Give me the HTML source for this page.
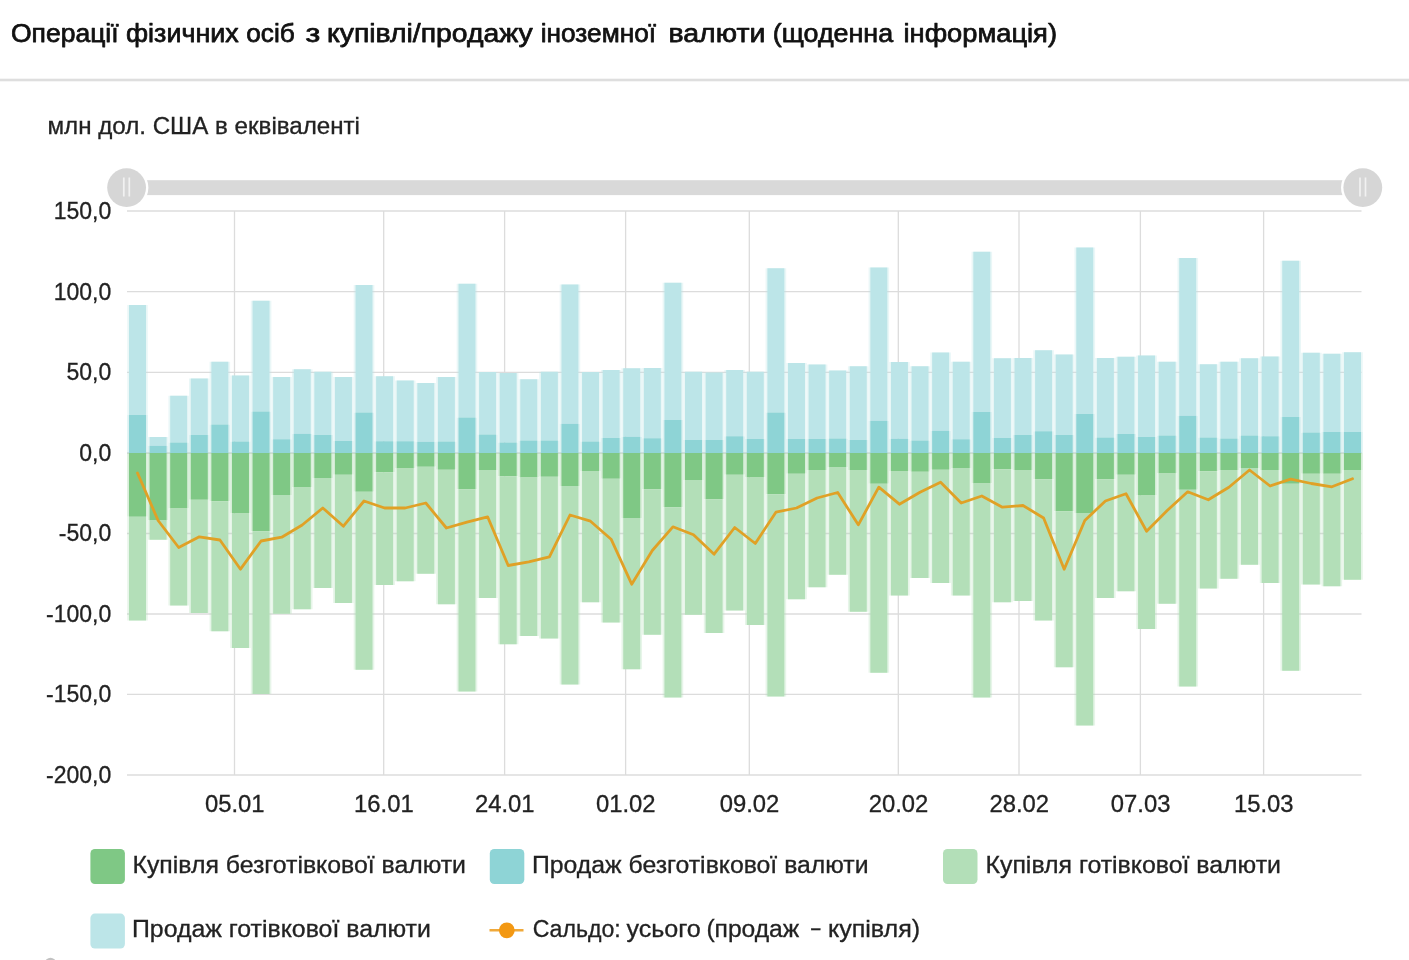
<!DOCTYPE html>
<html lang="uk"><head><meta charset="utf-8"><title>Операції фізичних осіб з купівлі/продажу іноземної валюти</title>
<style>
html,body{margin:0;padding:0;background:#fff;}
body{width:1409px;height:960px;overflow:hidden;font-family:"Liberation Sans",sans-serif;}
svg{display:block;}
text{font-family:"Liberation Sans",sans-serif;fill:#222;stroke:#222;stroke-width:0.3px;}
.t{font-size:26.3px;fill:#111;stroke:#111;stroke-width:0.75px;stroke-linejoin:round;}
.s{font-size:23px;}
.ax{font-size:23px;}
.lg{font-size:23px;}
</style></head><body>
<svg width="1409" height="960" viewBox="0 0 1409 960">
<rect x="0" y="0" width="1409" height="960" fill="#fff"/>

<text class="t" y="42.3"><tspan x="11.00" textLength="107.60" lengthAdjust="spacingAndGlyphs">Операції</tspan> <tspan x="126.00" textLength="112.70" lengthAdjust="spacingAndGlyphs">фізичних</tspan> <tspan x="246.30" textLength="48.50" lengthAdjust="spacingAndGlyphs">осіб</tspan> <tspan x="305.60" textLength="14.80" lengthAdjust="spacingAndGlyphs">з</tspan> <tspan x="327.00" textLength="205.80" lengthAdjust="spacingAndGlyphs">купівлі/продажу</tspan> <tspan x="540.80" textLength="115.20" lengthAdjust="spacingAndGlyphs">іноземної</tspan> <tspan x="668.50" textLength="96.80" lengthAdjust="spacingAndGlyphs">валюти</tspan> <tspan x="772.80" textLength="120.30" lengthAdjust="spacingAndGlyphs">(щоденна</tspan> <tspan x="903.50" textLength="153.50" lengthAdjust="spacingAndGlyphs">інформація)</tspan></text>
<rect x="0" y="78.7" width="1409" height="2.6" fill="#dedede"/>
<text class="s" x="47.5" y="133.5" textLength="312.5" lengthAdjust="spacingAndGlyphs">млн дол. США в еквіваленті</text>
<g stroke="#dcdcdc" stroke-width="1.3" fill="none">
<line x1="127.0" y1="211" x2="1361.5" y2="211"/>
<line x1="127.0" y1="291.7" x2="1361.5" y2="291.7"/>
<line x1="127.0" y1="372.3" x2="1361.5" y2="372.3"/>
<line x1="127.0" y1="453" x2="1361.5" y2="453"/>
<line x1="127.0" y1="533.5" x2="1361.5" y2="533.5"/>
<line x1="127.0" y1="614" x2="1361.5" y2="614"/>
<line x1="127.0" y1="694.3" x2="1361.5" y2="694.3"/>
<line x1="127.0" y1="775" x2="1361.5" y2="775"/>
<line x1="234.5" y1="211" x2="234.5" y2="775"/>
<line x1="383.7" y1="211" x2="383.7" y2="775"/>
<line x1="504.6" y1="211" x2="504.6" y2="775"/>
<line x1="625.6" y1="211" x2="625.6" y2="775"/>
<line x1="749.3" y1="211" x2="749.3" y2="775"/>
<line x1="898.3" y1="211" x2="898.3" y2="775"/>
<line x1="1019" y1="211" x2="1019" y2="775"/>
<line x1="1140.4" y1="211" x2="1140.4" y2="775"/>
<line x1="1263.6" y1="211" x2="1263.6" y2="775"/>
</g>
<rect x="127.0" y="180.2" width="1234.5" height="14.9" fill="#d9d9d9"/>
<circle cx="126.6" cy="187.6" r="21.8" fill="#fff"/>
<circle cx="126.6" cy="187.6" r="19.4" fill="#d6d6d6"/>
<path d="M123.8 177.6v18.8M129.3 177.6v18.8" stroke="#f1f1f1" stroke-width="1.7" fill="none"/>
<circle cx="1362.8" cy="187.6" r="21.8" fill="#fff"/>
<circle cx="1362.8" cy="187.6" r="19.4" fill="#d6d6d6"/>
<path d="M1360.0 177.6v18.8M1365.5 177.6v18.8" stroke="#f1f1f1" stroke-width="1.7" fill="none"/>
<g opacity="0.3"><rect x="127.20" y="305.00" width="20.6" height="110.00" fill="#bce5e8"/><rect x="127.20" y="415.00" width="20.6" height="38.00" fill="#8ed4d6"/><rect x="127.20" y="453.00" width="20.6" height="63.75" fill="#7fc885"/><rect x="127.20" y="516.75" width="20.6" height="103.75" fill="#b3dfb8"/><rect x="147.79" y="437.00" width="20.6" height="8.75" fill="#bce5e8"/><rect x="147.79" y="445.75" width="20.6" height="7.25" fill="#8ed4d6"/><rect x="147.79" y="453.00" width="20.6" height="67.50" fill="#7fc885"/><rect x="147.79" y="520.50" width="20.6" height="19.25" fill="#b3dfb8"/><rect x="168.39" y="395.75" width="20.6" height="46.75" fill="#bce5e8"/><rect x="168.39" y="442.50" width="20.6" height="10.50" fill="#8ed4d6"/><rect x="168.39" y="453.00" width="20.6" height="55.50" fill="#7fc885"/><rect x="168.39" y="508.50" width="20.6" height="97.00" fill="#b3dfb8"/><rect x="188.98" y="378.50" width="20.6" height="56.50" fill="#bce5e8"/><rect x="188.98" y="435.00" width="20.6" height="18.00" fill="#8ed4d6"/><rect x="188.98" y="453.00" width="20.6" height="46.75" fill="#7fc885"/><rect x="188.98" y="499.75" width="20.6" height="113.25" fill="#b3dfb8"/><rect x="209.57" y="361.75" width="20.6" height="62.75" fill="#bce5e8"/><rect x="209.57" y="424.50" width="20.6" height="28.50" fill="#8ed4d6"/><rect x="209.57" y="453.00" width="20.6" height="48.25" fill="#7fc885"/><rect x="209.57" y="501.25" width="20.6" height="130.00" fill="#b3dfb8"/><rect x="230.16" y="375.50" width="20.6" height="66.00" fill="#bce5e8"/><rect x="230.16" y="441.50" width="20.6" height="11.50" fill="#8ed4d6"/><rect x="230.16" y="453.00" width="20.6" height="60.50" fill="#7fc885"/><rect x="230.16" y="513.50" width="20.6" height="134.50" fill="#b3dfb8"/><rect x="250.76" y="300.75" width="20.6" height="110.75" fill="#bce5e8"/><rect x="250.76" y="411.50" width="20.6" height="41.50" fill="#8ed4d6"/><rect x="250.76" y="453.00" width="20.6" height="78.25" fill="#7fc885"/><rect x="250.76" y="531.25" width="20.6" height="162.75" fill="#b3dfb8"/><rect x="271.35" y="377.00" width="20.6" height="62.25" fill="#bce5e8"/><rect x="271.35" y="439.25" width="20.6" height="13.75" fill="#8ed4d6"/><rect x="271.35" y="453.00" width="20.6" height="42.00" fill="#7fc885"/><rect x="271.35" y="495.00" width="20.6" height="118.75" fill="#b3dfb8"/><rect x="291.94" y="369.25" width="20.6" height="64.50" fill="#bce5e8"/><rect x="291.94" y="433.75" width="20.6" height="19.25" fill="#8ed4d6"/><rect x="291.94" y="453.00" width="20.6" height="34.50" fill="#7fc885"/><rect x="291.94" y="487.50" width="20.6" height="121.75" fill="#b3dfb8"/><rect x="312.54" y="371.75" width="20.6" height="63.25" fill="#bce5e8"/><rect x="312.54" y="435.00" width="20.6" height="18.00" fill="#8ed4d6"/><rect x="312.54" y="453.00" width="20.6" height="25.00" fill="#7fc885"/><rect x="312.54" y="478.00" width="20.6" height="110.00" fill="#b3dfb8"/><rect x="333.13" y="377.00" width="20.6" height="64.00" fill="#bce5e8"/><rect x="333.13" y="441.00" width="20.6" height="12.00" fill="#8ed4d6"/><rect x="333.13" y="453.00" width="20.6" height="21.75" fill="#7fc885"/><rect x="333.13" y="474.75" width="20.6" height="128.25" fill="#b3dfb8"/><rect x="353.72" y="285.00" width="20.6" height="127.50" fill="#bce5e8"/><rect x="353.72" y="412.50" width="20.6" height="40.50" fill="#8ed4d6"/><rect x="353.72" y="453.00" width="20.6" height="38.75" fill="#7fc885"/><rect x="353.72" y="491.75" width="20.6" height="178.00" fill="#b3dfb8"/><rect x="374.32" y="376.25" width="20.6" height="65.00" fill="#bce5e8"/><rect x="374.32" y="441.25" width="20.6" height="11.75" fill="#8ed4d6"/><rect x="374.32" y="453.00" width="20.6" height="19.25" fill="#7fc885"/><rect x="374.32" y="472.25" width="20.6" height="112.75" fill="#b3dfb8"/><rect x="394.91" y="380.50" width="20.6" height="60.75" fill="#bce5e8"/><rect x="394.91" y="441.25" width="20.6" height="11.75" fill="#8ed4d6"/><rect x="394.91" y="453.00" width="20.6" height="15.50" fill="#7fc885"/><rect x="394.91" y="468.50" width="20.6" height="112.75" fill="#b3dfb8"/><rect x="415.50" y="383.00" width="20.6" height="58.75" fill="#bce5e8"/><rect x="415.50" y="441.75" width="20.6" height="11.25" fill="#8ed4d6"/><rect x="415.50" y="453.00" width="20.6" height="13.75" fill="#7fc885"/><rect x="415.50" y="466.75" width="20.6" height="107.00" fill="#b3dfb8"/><rect x="436.09" y="377.00" width="20.6" height="64.50" fill="#bce5e8"/><rect x="436.09" y="441.50" width="20.6" height="11.50" fill="#8ed4d6"/><rect x="436.09" y="453.00" width="20.6" height="16.75" fill="#7fc885"/><rect x="436.09" y="469.75" width="20.6" height="134.50" fill="#b3dfb8"/><rect x="456.69" y="283.75" width="20.6" height="133.75" fill="#bce5e8"/><rect x="456.69" y="417.50" width="20.6" height="35.50" fill="#8ed4d6"/><rect x="456.69" y="453.00" width="20.6" height="36.25" fill="#7fc885"/><rect x="456.69" y="489.25" width="20.6" height="202.25" fill="#b3dfb8"/><rect x="477.28" y="372.00" width="20.6" height="62.50" fill="#bce5e8"/><rect x="477.28" y="434.50" width="20.6" height="18.50" fill="#8ed4d6"/><rect x="477.28" y="453.00" width="20.6" height="17.00" fill="#7fc885"/><rect x="477.28" y="470.00" width="20.6" height="128.00" fill="#b3dfb8"/><rect x="497.87" y="373.00" width="20.6" height="69.50" fill="#bce5e8"/><rect x="497.87" y="442.50" width="20.6" height="10.50" fill="#8ed4d6"/><rect x="497.87" y="453.00" width="20.6" height="23.25" fill="#7fc885"/><rect x="497.87" y="476.25" width="20.6" height="168.00" fill="#b3dfb8"/><rect x="518.47" y="379.25" width="20.6" height="61.25" fill="#bce5e8"/><rect x="518.47" y="440.50" width="20.6" height="12.50" fill="#8ed4d6"/><rect x="518.47" y="453.00" width="20.6" height="24.50" fill="#7fc885"/><rect x="518.47" y="477.50" width="20.6" height="158.50" fill="#b3dfb8"/><rect x="539.06" y="371.75" width="20.6" height="68.75" fill="#bce5e8"/><rect x="539.06" y="440.50" width="20.6" height="12.50" fill="#8ed4d6"/><rect x="539.06" y="453.00" width="20.6" height="23.75" fill="#7fc885"/><rect x="539.06" y="476.75" width="20.6" height="161.75" fill="#b3dfb8"/><rect x="559.65" y="284.50" width="20.6" height="139.25" fill="#bce5e8"/><rect x="559.65" y="423.75" width="20.6" height="29.25" fill="#8ed4d6"/><rect x="559.65" y="453.00" width="20.6" height="33.00" fill="#7fc885"/><rect x="559.65" y="486.00" width="20.6" height="198.50" fill="#b3dfb8"/><rect x="580.25" y="372.00" width="20.6" height="69.50" fill="#bce5e8"/><rect x="580.25" y="441.50" width="20.6" height="11.50" fill="#8ed4d6"/><rect x="580.25" y="453.00" width="20.6" height="18.00" fill="#7fc885"/><rect x="580.25" y="471.00" width="20.6" height="131.25" fill="#b3dfb8"/><rect x="600.84" y="370.00" width="20.6" height="68.00" fill="#bce5e8"/><rect x="600.84" y="438.00" width="20.6" height="15.00" fill="#8ed4d6"/><rect x="600.84" y="453.00" width="20.6" height="25.75" fill="#7fc885"/><rect x="600.84" y="478.75" width="20.6" height="143.75" fill="#b3dfb8"/><rect x="621.43" y="368.25" width="20.6" height="68.50" fill="#bce5e8"/><rect x="621.43" y="436.75" width="20.6" height="16.25" fill="#8ed4d6"/><rect x="621.43" y="453.00" width="20.6" height="65.00" fill="#7fc885"/><rect x="621.43" y="518.00" width="20.6" height="151.25" fill="#b3dfb8"/><rect x="642.03" y="368.00" width="20.6" height="70.25" fill="#bce5e8"/><rect x="642.03" y="438.25" width="20.6" height="14.75" fill="#8ed4d6"/><rect x="642.03" y="453.00" width="20.6" height="36.25" fill="#7fc885"/><rect x="642.03" y="489.25" width="20.6" height="145.50" fill="#b3dfb8"/><rect x="662.62" y="282.75" width="20.6" height="137.25" fill="#bce5e8"/><rect x="662.62" y="420.00" width="20.6" height="33.00" fill="#8ed4d6"/><rect x="662.62" y="453.00" width="20.6" height="54.25" fill="#7fc885"/><rect x="662.62" y="507.25" width="20.6" height="190.25" fill="#b3dfb8"/><rect x="683.21" y="371.75" width="20.6" height="68.25" fill="#bce5e8"/><rect x="683.21" y="440.00" width="20.6" height="13.00" fill="#8ed4d6"/><rect x="683.21" y="453.00" width="20.6" height="27.00" fill="#7fc885"/><rect x="683.21" y="480.00" width="20.6" height="134.75" fill="#b3dfb8"/><rect x="703.80" y="372.50" width="20.6" height="67.50" fill="#bce5e8"/><rect x="703.80" y="440.00" width="20.6" height="13.00" fill="#8ed4d6"/><rect x="703.80" y="453.00" width="20.6" height="46.25" fill="#7fc885"/><rect x="703.80" y="499.25" width="20.6" height="133.75" fill="#b3dfb8"/><rect x="724.40" y="370.00" width="20.6" height="66.25" fill="#bce5e8"/><rect x="724.40" y="436.25" width="20.6" height="16.75" fill="#8ed4d6"/><rect x="724.40" y="453.00" width="20.6" height="21.75" fill="#7fc885"/><rect x="724.40" y="474.75" width="20.6" height="135.75" fill="#b3dfb8"/><rect x="744.99" y="371.75" width="20.6" height="67.25" fill="#bce5e8"/><rect x="744.99" y="439.00" width="20.6" height="14.00" fill="#8ed4d6"/><rect x="744.99" y="453.00" width="20.6" height="24.50" fill="#7fc885"/><rect x="744.99" y="477.50" width="20.6" height="147.50" fill="#b3dfb8"/><rect x="765.58" y="268.25" width="20.6" height="144.25" fill="#bce5e8"/><rect x="765.58" y="412.50" width="20.6" height="40.50" fill="#8ed4d6"/><rect x="765.58" y="453.00" width="20.6" height="41.25" fill="#7fc885"/><rect x="765.58" y="494.25" width="20.6" height="202.25" fill="#b3dfb8"/><rect x="786.18" y="363.00" width="20.6" height="76.00" fill="#bce5e8"/><rect x="786.18" y="439.00" width="20.6" height="14.00" fill="#8ed4d6"/><rect x="786.18" y="453.00" width="20.6" height="20.75" fill="#7fc885"/><rect x="786.18" y="473.75" width="20.6" height="125.50" fill="#b3dfb8"/><rect x="806.77" y="364.50" width="20.6" height="74.50" fill="#bce5e8"/><rect x="806.77" y="439.00" width="20.6" height="14.00" fill="#8ed4d6"/><rect x="806.77" y="453.00" width="20.6" height="17.00" fill="#7fc885"/><rect x="806.77" y="470.00" width="20.6" height="117.25" fill="#b3dfb8"/><rect x="827.36" y="370.50" width="20.6" height="68.00" fill="#bce5e8"/><rect x="827.36" y="438.50" width="20.6" height="14.50" fill="#8ed4d6"/><rect x="827.36" y="453.00" width="20.6" height="14.50" fill="#7fc885"/><rect x="827.36" y="467.50" width="20.6" height="107.25" fill="#b3dfb8"/><rect x="847.96" y="366.25" width="20.6" height="73.75" fill="#bce5e8"/><rect x="847.96" y="440.00" width="20.6" height="13.00" fill="#8ed4d6"/><rect x="847.96" y="453.00" width="20.6" height="17.00" fill="#7fc885"/><rect x="847.96" y="470.00" width="20.6" height="141.75" fill="#b3dfb8"/><rect x="868.55" y="267.50" width="20.6" height="153.25" fill="#bce5e8"/><rect x="868.55" y="420.75" width="20.6" height="32.25" fill="#8ed4d6"/><rect x="868.55" y="453.00" width="20.6" height="30.75" fill="#7fc885"/><rect x="868.55" y="483.75" width="20.6" height="189.00" fill="#b3dfb8"/><rect x="889.14" y="362.00" width="20.6" height="76.75" fill="#bce5e8"/><rect x="889.14" y="438.75" width="20.6" height="14.25" fill="#8ed4d6"/><rect x="889.14" y="453.00" width="20.6" height="18.00" fill="#7fc885"/><rect x="889.14" y="471.00" width="20.6" height="124.50" fill="#b3dfb8"/><rect x="909.73" y="366.25" width="20.6" height="74.25" fill="#bce5e8"/><rect x="909.73" y="440.50" width="20.6" height="12.50" fill="#8ed4d6"/><rect x="909.73" y="453.00" width="20.6" height="18.75" fill="#7fc885"/><rect x="909.73" y="471.75" width="20.6" height="106.25" fill="#b3dfb8"/><rect x="930.33" y="352.50" width="20.6" height="78.25" fill="#bce5e8"/><rect x="930.33" y="430.75" width="20.6" height="22.25" fill="#8ed4d6"/><rect x="930.33" y="453.00" width="20.6" height="16.75" fill="#7fc885"/><rect x="930.33" y="469.75" width="20.6" height="113.25" fill="#b3dfb8"/><rect x="950.92" y="361.75" width="20.6" height="77.50" fill="#bce5e8"/><rect x="950.92" y="439.25" width="20.6" height="13.75" fill="#8ed4d6"/><rect x="950.92" y="453.00" width="20.6" height="15.00" fill="#7fc885"/><rect x="950.92" y="468.00" width="20.6" height="127.50" fill="#b3dfb8"/><rect x="971.51" y="251.75" width="20.6" height="160.25" fill="#bce5e8"/><rect x="971.51" y="412.00" width="20.6" height="41.00" fill="#8ed4d6"/><rect x="971.51" y="453.00" width="20.6" height="30.50" fill="#7fc885"/><rect x="971.51" y="483.50" width="20.6" height="214.00" fill="#b3dfb8"/><rect x="992.11" y="358.25" width="20.6" height="79.75" fill="#bce5e8"/><rect x="992.11" y="438.00" width="20.6" height="15.00" fill="#8ed4d6"/><rect x="992.11" y="453.00" width="20.6" height="16.25" fill="#7fc885"/><rect x="992.11" y="469.25" width="20.6" height="133.00" fill="#b3dfb8"/><rect x="1012.70" y="358.00" width="20.6" height="77.00" fill="#bce5e8"/><rect x="1012.70" y="435.00" width="20.6" height="18.00" fill="#8ed4d6"/><rect x="1012.70" y="453.00" width="20.6" height="17.00" fill="#7fc885"/><rect x="1012.70" y="470.00" width="20.6" height="131.00" fill="#b3dfb8"/><rect x="1033.29" y="350.25" width="20.6" height="81.00" fill="#bce5e8"/><rect x="1033.29" y="431.25" width="20.6" height="21.75" fill="#8ed4d6"/><rect x="1033.29" y="453.00" width="20.6" height="26.25" fill="#7fc885"/><rect x="1033.29" y="479.25" width="20.6" height="141.25" fill="#b3dfb8"/><rect x="1053.88" y="354.50" width="20.6" height="80.50" fill="#bce5e8"/><rect x="1053.88" y="435.00" width="20.6" height="18.00" fill="#8ed4d6"/><rect x="1053.88" y="453.00" width="20.6" height="58.25" fill="#7fc885"/><rect x="1053.88" y="511.25" width="20.6" height="156.00" fill="#b3dfb8"/><rect x="1074.48" y="247.50" width="20.6" height="166.50" fill="#bce5e8"/><rect x="1074.48" y="414.00" width="20.6" height="39.00" fill="#8ed4d6"/><rect x="1074.48" y="453.00" width="20.6" height="60.00" fill="#7fc885"/><rect x="1074.48" y="513.00" width="20.6" height="212.50" fill="#b3dfb8"/><rect x="1095.07" y="358.00" width="20.6" height="79.50" fill="#bce5e8"/><rect x="1095.07" y="437.50" width="20.6" height="15.50" fill="#8ed4d6"/><rect x="1095.07" y="453.00" width="20.6" height="26.25" fill="#7fc885"/><rect x="1095.07" y="479.25" width="20.6" height="118.75" fill="#b3dfb8"/><rect x="1115.66" y="356.75" width="20.6" height="77.25" fill="#bce5e8"/><rect x="1115.66" y="434.00" width="20.6" height="19.00" fill="#8ed4d6"/><rect x="1115.66" y="453.00" width="20.6" height="21.75" fill="#7fc885"/><rect x="1115.66" y="474.75" width="20.6" height="116.50" fill="#b3dfb8"/><rect x="1136.26" y="355.50" width="20.6" height="81.50" fill="#bce5e8"/><rect x="1136.26" y="437.00" width="20.6" height="16.00" fill="#8ed4d6"/><rect x="1136.26" y="453.00" width="20.6" height="42.50" fill="#7fc885"/><rect x="1136.26" y="495.50" width="20.6" height="133.50" fill="#b3dfb8"/><rect x="1156.85" y="361.75" width="20.6" height="73.75" fill="#bce5e8"/><rect x="1156.85" y="435.50" width="20.6" height="17.50" fill="#8ed4d6"/><rect x="1156.85" y="453.00" width="20.6" height="20.50" fill="#7fc885"/><rect x="1156.85" y="473.50" width="20.6" height="130.25" fill="#b3dfb8"/><rect x="1177.44" y="258.00" width="20.6" height="157.75" fill="#bce5e8"/><rect x="1177.44" y="415.75" width="20.6" height="37.25" fill="#8ed4d6"/><rect x="1177.44" y="453.00" width="20.6" height="36.75" fill="#7fc885"/><rect x="1177.44" y="489.75" width="20.6" height="196.75" fill="#b3dfb8"/><rect x="1198.04" y="364.25" width="20.6" height="73.25" fill="#bce5e8"/><rect x="1198.04" y="437.50" width="20.6" height="15.50" fill="#8ed4d6"/><rect x="1198.04" y="453.00" width="20.6" height="18.25" fill="#7fc885"/><rect x="1198.04" y="471.25" width="20.6" height="117.25" fill="#b3dfb8"/><rect x="1218.63" y="361.75" width="20.6" height="76.75" fill="#bce5e8"/><rect x="1218.63" y="438.50" width="20.6" height="14.50" fill="#8ed4d6"/><rect x="1218.63" y="453.00" width="20.6" height="17.00" fill="#7fc885"/><rect x="1218.63" y="470.00" width="20.6" height="108.75" fill="#b3dfb8"/><rect x="1239.22" y="358.25" width="20.6" height="77.25" fill="#bce5e8"/><rect x="1239.22" y="435.50" width="20.6" height="17.50" fill="#8ed4d6"/><rect x="1239.22" y="453.00" width="20.6" height="15.00" fill="#7fc885"/><rect x="1239.22" y="468.00" width="20.6" height="96.75" fill="#b3dfb8"/><rect x="1259.82" y="356.50" width="20.6" height="79.75" fill="#bce5e8"/><rect x="1259.82" y="436.25" width="20.6" height="16.75" fill="#8ed4d6"/><rect x="1259.82" y="453.00" width="20.6" height="17.00" fill="#7fc885"/><rect x="1259.82" y="470.00" width="20.6" height="113.00" fill="#b3dfb8"/><rect x="1280.41" y="260.75" width="20.6" height="156.25" fill="#bce5e8"/><rect x="1280.41" y="417.00" width="20.6" height="36.00" fill="#8ed4d6"/><rect x="1280.41" y="453.00" width="20.6" height="30.75" fill="#7fc885"/><rect x="1280.41" y="483.75" width="20.6" height="187.00" fill="#b3dfb8"/><rect x="1301.00" y="352.75" width="20.6" height="79.75" fill="#bce5e8"/><rect x="1301.00" y="432.50" width="20.6" height="20.50" fill="#8ed4d6"/><rect x="1301.00" y="453.00" width="20.6" height="20.75" fill="#7fc885"/><rect x="1301.00" y="473.75" width="20.6" height="110.75" fill="#b3dfb8"/><rect x="1321.59" y="353.75" width="20.6" height="78.25" fill="#bce5e8"/><rect x="1321.59" y="432.00" width="20.6" height="21.00" fill="#8ed4d6"/><rect x="1321.59" y="453.00" width="20.6" height="20.75" fill="#7fc885"/><rect x="1321.59" y="473.75" width="20.6" height="112.50" fill="#b3dfb8"/><rect x="1342.19" y="352.25" width="20.6" height="79.75" fill="#bce5e8"/><rect x="1342.19" y="432.00" width="20.6" height="21.00" fill="#8ed4d6"/><rect x="1342.19" y="453.00" width="20.6" height="17.00" fill="#7fc885"/><rect x="1342.19" y="470.00" width="20.6" height="109.75" fill="#b3dfb8"/></g>
<g><rect x="129.00" y="305.00" width="17.0" height="110.00" fill="#bce5e8"/><rect x="129.00" y="415.00" width="17.0" height="38.00" fill="#8ed4d6"/><rect x="129.00" y="453.00" width="17.0" height="63.75" fill="#7fc885"/><rect x="129.00" y="516.75" width="17.0" height="103.75" fill="#b3dfb8"/><rect x="149.59" y="437.00" width="17.0" height="8.75" fill="#bce5e8"/><rect x="149.59" y="445.75" width="17.0" height="7.25" fill="#8ed4d6"/><rect x="149.59" y="453.00" width="17.0" height="67.50" fill="#7fc885"/><rect x="149.59" y="520.50" width="17.0" height="19.25" fill="#b3dfb8"/><rect x="170.19" y="395.75" width="17.0" height="46.75" fill="#bce5e8"/><rect x="170.19" y="442.50" width="17.0" height="10.50" fill="#8ed4d6"/><rect x="170.19" y="453.00" width="17.0" height="55.50" fill="#7fc885"/><rect x="170.19" y="508.50" width="17.0" height="97.00" fill="#b3dfb8"/><rect x="190.78" y="378.50" width="17.0" height="56.50" fill="#bce5e8"/><rect x="190.78" y="435.00" width="17.0" height="18.00" fill="#8ed4d6"/><rect x="190.78" y="453.00" width="17.0" height="46.75" fill="#7fc885"/><rect x="190.78" y="499.75" width="17.0" height="113.25" fill="#b3dfb8"/><rect x="211.37" y="361.75" width="17.0" height="62.75" fill="#bce5e8"/><rect x="211.37" y="424.50" width="17.0" height="28.50" fill="#8ed4d6"/><rect x="211.37" y="453.00" width="17.0" height="48.25" fill="#7fc885"/><rect x="211.37" y="501.25" width="17.0" height="130.00" fill="#b3dfb8"/><rect x="231.97" y="375.50" width="17.0" height="66.00" fill="#bce5e8"/><rect x="231.97" y="441.50" width="17.0" height="11.50" fill="#8ed4d6"/><rect x="231.97" y="453.00" width="17.0" height="60.50" fill="#7fc885"/><rect x="231.97" y="513.50" width="17.0" height="134.50" fill="#b3dfb8"/><rect x="252.56" y="300.75" width="17.0" height="110.75" fill="#bce5e8"/><rect x="252.56" y="411.50" width="17.0" height="41.50" fill="#8ed4d6"/><rect x="252.56" y="453.00" width="17.0" height="78.25" fill="#7fc885"/><rect x="252.56" y="531.25" width="17.0" height="162.75" fill="#b3dfb8"/><rect x="273.15" y="377.00" width="17.0" height="62.25" fill="#bce5e8"/><rect x="273.15" y="439.25" width="17.0" height="13.75" fill="#8ed4d6"/><rect x="273.15" y="453.00" width="17.0" height="42.00" fill="#7fc885"/><rect x="273.15" y="495.00" width="17.0" height="118.75" fill="#b3dfb8"/><rect x="293.74" y="369.25" width="17.0" height="64.50" fill="#bce5e8"/><rect x="293.74" y="433.75" width="17.0" height="19.25" fill="#8ed4d6"/><rect x="293.74" y="453.00" width="17.0" height="34.50" fill="#7fc885"/><rect x="293.74" y="487.50" width="17.0" height="121.75" fill="#b3dfb8"/><rect x="314.34" y="371.75" width="17.0" height="63.25" fill="#bce5e8"/><rect x="314.34" y="435.00" width="17.0" height="18.00" fill="#8ed4d6"/><rect x="314.34" y="453.00" width="17.0" height="25.00" fill="#7fc885"/><rect x="314.34" y="478.00" width="17.0" height="110.00" fill="#b3dfb8"/><rect x="334.93" y="377.00" width="17.0" height="64.00" fill="#bce5e8"/><rect x="334.93" y="441.00" width="17.0" height="12.00" fill="#8ed4d6"/><rect x="334.93" y="453.00" width="17.0" height="21.75" fill="#7fc885"/><rect x="334.93" y="474.75" width="17.0" height="128.25" fill="#b3dfb8"/><rect x="355.52" y="285.00" width="17.0" height="127.50" fill="#bce5e8"/><rect x="355.52" y="412.50" width="17.0" height="40.50" fill="#8ed4d6"/><rect x="355.52" y="453.00" width="17.0" height="38.75" fill="#7fc885"/><rect x="355.52" y="491.75" width="17.0" height="178.00" fill="#b3dfb8"/><rect x="376.12" y="376.25" width="17.0" height="65.00" fill="#bce5e8"/><rect x="376.12" y="441.25" width="17.0" height="11.75" fill="#8ed4d6"/><rect x="376.12" y="453.00" width="17.0" height="19.25" fill="#7fc885"/><rect x="376.12" y="472.25" width="17.0" height="112.75" fill="#b3dfb8"/><rect x="396.71" y="380.50" width="17.0" height="60.75" fill="#bce5e8"/><rect x="396.71" y="441.25" width="17.0" height="11.75" fill="#8ed4d6"/><rect x="396.71" y="453.00" width="17.0" height="15.50" fill="#7fc885"/><rect x="396.71" y="468.50" width="17.0" height="112.75" fill="#b3dfb8"/><rect x="417.30" y="383.00" width="17.0" height="58.75" fill="#bce5e8"/><rect x="417.30" y="441.75" width="17.0" height="11.25" fill="#8ed4d6"/><rect x="417.30" y="453.00" width="17.0" height="13.75" fill="#7fc885"/><rect x="417.30" y="466.75" width="17.0" height="107.00" fill="#b3dfb8"/><rect x="437.89" y="377.00" width="17.0" height="64.50" fill="#bce5e8"/><rect x="437.89" y="441.50" width="17.0" height="11.50" fill="#8ed4d6"/><rect x="437.89" y="453.00" width="17.0" height="16.75" fill="#7fc885"/><rect x="437.89" y="469.75" width="17.0" height="134.50" fill="#b3dfb8"/><rect x="458.49" y="283.75" width="17.0" height="133.75" fill="#bce5e8"/><rect x="458.49" y="417.50" width="17.0" height="35.50" fill="#8ed4d6"/><rect x="458.49" y="453.00" width="17.0" height="36.25" fill="#7fc885"/><rect x="458.49" y="489.25" width="17.0" height="202.25" fill="#b3dfb8"/><rect x="479.08" y="372.00" width="17.0" height="62.50" fill="#bce5e8"/><rect x="479.08" y="434.50" width="17.0" height="18.50" fill="#8ed4d6"/><rect x="479.08" y="453.00" width="17.0" height="17.00" fill="#7fc885"/><rect x="479.08" y="470.00" width="17.0" height="128.00" fill="#b3dfb8"/><rect x="499.67" y="373.00" width="17.0" height="69.50" fill="#bce5e8"/><rect x="499.67" y="442.50" width="17.0" height="10.50" fill="#8ed4d6"/><rect x="499.67" y="453.00" width="17.0" height="23.25" fill="#7fc885"/><rect x="499.67" y="476.25" width="17.0" height="168.00" fill="#b3dfb8"/><rect x="520.27" y="379.25" width="17.0" height="61.25" fill="#bce5e8"/><rect x="520.27" y="440.50" width="17.0" height="12.50" fill="#8ed4d6"/><rect x="520.27" y="453.00" width="17.0" height="24.50" fill="#7fc885"/><rect x="520.27" y="477.50" width="17.0" height="158.50" fill="#b3dfb8"/><rect x="540.86" y="371.75" width="17.0" height="68.75" fill="#bce5e8"/><rect x="540.86" y="440.50" width="17.0" height="12.50" fill="#8ed4d6"/><rect x="540.86" y="453.00" width="17.0" height="23.75" fill="#7fc885"/><rect x="540.86" y="476.75" width="17.0" height="161.75" fill="#b3dfb8"/><rect x="561.45" y="284.50" width="17.0" height="139.25" fill="#bce5e8"/><rect x="561.45" y="423.75" width="17.0" height="29.25" fill="#8ed4d6"/><rect x="561.45" y="453.00" width="17.0" height="33.00" fill="#7fc885"/><rect x="561.45" y="486.00" width="17.0" height="198.50" fill="#b3dfb8"/><rect x="582.05" y="372.00" width="17.0" height="69.50" fill="#bce5e8"/><rect x="582.05" y="441.50" width="17.0" height="11.50" fill="#8ed4d6"/><rect x="582.05" y="453.00" width="17.0" height="18.00" fill="#7fc885"/><rect x="582.05" y="471.00" width="17.0" height="131.25" fill="#b3dfb8"/><rect x="602.64" y="370.00" width="17.0" height="68.00" fill="#bce5e8"/><rect x="602.64" y="438.00" width="17.0" height="15.00" fill="#8ed4d6"/><rect x="602.64" y="453.00" width="17.0" height="25.75" fill="#7fc885"/><rect x="602.64" y="478.75" width="17.0" height="143.75" fill="#b3dfb8"/><rect x="623.23" y="368.25" width="17.0" height="68.50" fill="#bce5e8"/><rect x="623.23" y="436.75" width="17.0" height="16.25" fill="#8ed4d6"/><rect x="623.23" y="453.00" width="17.0" height="65.00" fill="#7fc885"/><rect x="623.23" y="518.00" width="17.0" height="151.25" fill="#b3dfb8"/><rect x="643.83" y="368.00" width="17.0" height="70.25" fill="#bce5e8"/><rect x="643.83" y="438.25" width="17.0" height="14.75" fill="#8ed4d6"/><rect x="643.83" y="453.00" width="17.0" height="36.25" fill="#7fc885"/><rect x="643.83" y="489.25" width="17.0" height="145.50" fill="#b3dfb8"/><rect x="664.42" y="282.75" width="17.0" height="137.25" fill="#bce5e8"/><rect x="664.42" y="420.00" width="17.0" height="33.00" fill="#8ed4d6"/><rect x="664.42" y="453.00" width="17.0" height="54.25" fill="#7fc885"/><rect x="664.42" y="507.25" width="17.0" height="190.25" fill="#b3dfb8"/><rect x="685.01" y="371.75" width="17.0" height="68.25" fill="#bce5e8"/><rect x="685.01" y="440.00" width="17.0" height="13.00" fill="#8ed4d6"/><rect x="685.01" y="453.00" width="17.0" height="27.00" fill="#7fc885"/><rect x="685.01" y="480.00" width="17.0" height="134.75" fill="#b3dfb8"/><rect x="705.60" y="372.50" width="17.0" height="67.50" fill="#bce5e8"/><rect x="705.60" y="440.00" width="17.0" height="13.00" fill="#8ed4d6"/><rect x="705.60" y="453.00" width="17.0" height="46.25" fill="#7fc885"/><rect x="705.60" y="499.25" width="17.0" height="133.75" fill="#b3dfb8"/><rect x="726.20" y="370.00" width="17.0" height="66.25" fill="#bce5e8"/><rect x="726.20" y="436.25" width="17.0" height="16.75" fill="#8ed4d6"/><rect x="726.20" y="453.00" width="17.0" height="21.75" fill="#7fc885"/><rect x="726.20" y="474.75" width="17.0" height="135.75" fill="#b3dfb8"/><rect x="746.79" y="371.75" width="17.0" height="67.25" fill="#bce5e8"/><rect x="746.79" y="439.00" width="17.0" height="14.00" fill="#8ed4d6"/><rect x="746.79" y="453.00" width="17.0" height="24.50" fill="#7fc885"/><rect x="746.79" y="477.50" width="17.0" height="147.50" fill="#b3dfb8"/><rect x="767.38" y="268.25" width="17.0" height="144.25" fill="#bce5e8"/><rect x="767.38" y="412.50" width="17.0" height="40.50" fill="#8ed4d6"/><rect x="767.38" y="453.00" width="17.0" height="41.25" fill="#7fc885"/><rect x="767.38" y="494.25" width="17.0" height="202.25" fill="#b3dfb8"/><rect x="787.98" y="363.00" width="17.0" height="76.00" fill="#bce5e8"/><rect x="787.98" y="439.00" width="17.0" height="14.00" fill="#8ed4d6"/><rect x="787.98" y="453.00" width="17.0" height="20.75" fill="#7fc885"/><rect x="787.98" y="473.75" width="17.0" height="125.50" fill="#b3dfb8"/><rect x="808.57" y="364.50" width="17.0" height="74.50" fill="#bce5e8"/><rect x="808.57" y="439.00" width="17.0" height="14.00" fill="#8ed4d6"/><rect x="808.57" y="453.00" width="17.0" height="17.00" fill="#7fc885"/><rect x="808.57" y="470.00" width="17.0" height="117.25" fill="#b3dfb8"/><rect x="829.16" y="370.50" width="17.0" height="68.00" fill="#bce5e8"/><rect x="829.16" y="438.50" width="17.0" height="14.50" fill="#8ed4d6"/><rect x="829.16" y="453.00" width="17.0" height="14.50" fill="#7fc885"/><rect x="829.16" y="467.50" width="17.0" height="107.25" fill="#b3dfb8"/><rect x="849.75" y="366.25" width="17.0" height="73.75" fill="#bce5e8"/><rect x="849.75" y="440.00" width="17.0" height="13.00" fill="#8ed4d6"/><rect x="849.75" y="453.00" width="17.0" height="17.00" fill="#7fc885"/><rect x="849.75" y="470.00" width="17.0" height="141.75" fill="#b3dfb8"/><rect x="870.35" y="267.50" width="17.0" height="153.25" fill="#bce5e8"/><rect x="870.35" y="420.75" width="17.0" height="32.25" fill="#8ed4d6"/><rect x="870.35" y="453.00" width="17.0" height="30.75" fill="#7fc885"/><rect x="870.35" y="483.75" width="17.0" height="189.00" fill="#b3dfb8"/><rect x="890.94" y="362.00" width="17.0" height="76.75" fill="#bce5e8"/><rect x="890.94" y="438.75" width="17.0" height="14.25" fill="#8ed4d6"/><rect x="890.94" y="453.00" width="17.0" height="18.00" fill="#7fc885"/><rect x="890.94" y="471.00" width="17.0" height="124.50" fill="#b3dfb8"/><rect x="911.53" y="366.25" width="17.0" height="74.25" fill="#bce5e8"/><rect x="911.53" y="440.50" width="17.0" height="12.50" fill="#8ed4d6"/><rect x="911.53" y="453.00" width="17.0" height="18.75" fill="#7fc885"/><rect x="911.53" y="471.75" width="17.0" height="106.25" fill="#b3dfb8"/><rect x="932.13" y="352.50" width="17.0" height="78.25" fill="#bce5e8"/><rect x="932.13" y="430.75" width="17.0" height="22.25" fill="#8ed4d6"/><rect x="932.13" y="453.00" width="17.0" height="16.75" fill="#7fc885"/><rect x="932.13" y="469.75" width="17.0" height="113.25" fill="#b3dfb8"/><rect x="952.72" y="361.75" width="17.0" height="77.50" fill="#bce5e8"/><rect x="952.72" y="439.25" width="17.0" height="13.75" fill="#8ed4d6"/><rect x="952.72" y="453.00" width="17.0" height="15.00" fill="#7fc885"/><rect x="952.72" y="468.00" width="17.0" height="127.50" fill="#b3dfb8"/><rect x="973.31" y="251.75" width="17.0" height="160.25" fill="#bce5e8"/><rect x="973.31" y="412.00" width="17.0" height="41.00" fill="#8ed4d6"/><rect x="973.31" y="453.00" width="17.0" height="30.50" fill="#7fc885"/><rect x="973.31" y="483.50" width="17.0" height="214.00" fill="#b3dfb8"/><rect x="993.91" y="358.25" width="17.0" height="79.75" fill="#bce5e8"/><rect x="993.91" y="438.00" width="17.0" height="15.00" fill="#8ed4d6"/><rect x="993.91" y="453.00" width="17.0" height="16.25" fill="#7fc885"/><rect x="993.91" y="469.25" width="17.0" height="133.00" fill="#b3dfb8"/><rect x="1014.50" y="358.00" width="17.0" height="77.00" fill="#bce5e8"/><rect x="1014.50" y="435.00" width="17.0" height="18.00" fill="#8ed4d6"/><rect x="1014.50" y="453.00" width="17.0" height="17.00" fill="#7fc885"/><rect x="1014.50" y="470.00" width="17.0" height="131.00" fill="#b3dfb8"/><rect x="1035.09" y="350.25" width="17.0" height="81.00" fill="#bce5e8"/><rect x="1035.09" y="431.25" width="17.0" height="21.75" fill="#8ed4d6"/><rect x="1035.09" y="453.00" width="17.0" height="26.25" fill="#7fc885"/><rect x="1035.09" y="479.25" width="17.0" height="141.25" fill="#b3dfb8"/><rect x="1055.68" y="354.50" width="17.0" height="80.50" fill="#bce5e8"/><rect x="1055.68" y="435.00" width="17.0" height="18.00" fill="#8ed4d6"/><rect x="1055.68" y="453.00" width="17.0" height="58.25" fill="#7fc885"/><rect x="1055.68" y="511.25" width="17.0" height="156.00" fill="#b3dfb8"/><rect x="1076.28" y="247.50" width="17.0" height="166.50" fill="#bce5e8"/><rect x="1076.28" y="414.00" width="17.0" height="39.00" fill="#8ed4d6"/><rect x="1076.28" y="453.00" width="17.0" height="60.00" fill="#7fc885"/><rect x="1076.28" y="513.00" width="17.0" height="212.50" fill="#b3dfb8"/><rect x="1096.87" y="358.00" width="17.0" height="79.50" fill="#bce5e8"/><rect x="1096.87" y="437.50" width="17.0" height="15.50" fill="#8ed4d6"/><rect x="1096.87" y="453.00" width="17.0" height="26.25" fill="#7fc885"/><rect x="1096.87" y="479.25" width="17.0" height="118.75" fill="#b3dfb8"/><rect x="1117.46" y="356.75" width="17.0" height="77.25" fill="#bce5e8"/><rect x="1117.46" y="434.00" width="17.0" height="19.00" fill="#8ed4d6"/><rect x="1117.46" y="453.00" width="17.0" height="21.75" fill="#7fc885"/><rect x="1117.46" y="474.75" width="17.0" height="116.50" fill="#b3dfb8"/><rect x="1138.06" y="355.50" width="17.0" height="81.50" fill="#bce5e8"/><rect x="1138.06" y="437.00" width="17.0" height="16.00" fill="#8ed4d6"/><rect x="1138.06" y="453.00" width="17.0" height="42.50" fill="#7fc885"/><rect x="1138.06" y="495.50" width="17.0" height="133.50" fill="#b3dfb8"/><rect x="1158.65" y="361.75" width="17.0" height="73.75" fill="#bce5e8"/><rect x="1158.65" y="435.50" width="17.0" height="17.50" fill="#8ed4d6"/><rect x="1158.65" y="453.00" width="17.0" height="20.50" fill="#7fc885"/><rect x="1158.65" y="473.50" width="17.0" height="130.25" fill="#b3dfb8"/><rect x="1179.24" y="258.00" width="17.0" height="157.75" fill="#bce5e8"/><rect x="1179.24" y="415.75" width="17.0" height="37.25" fill="#8ed4d6"/><rect x="1179.24" y="453.00" width="17.0" height="36.75" fill="#7fc885"/><rect x="1179.24" y="489.75" width="17.0" height="196.75" fill="#b3dfb8"/><rect x="1199.84" y="364.25" width="17.0" height="73.25" fill="#bce5e8"/><rect x="1199.84" y="437.50" width="17.0" height="15.50" fill="#8ed4d6"/><rect x="1199.84" y="453.00" width="17.0" height="18.25" fill="#7fc885"/><rect x="1199.84" y="471.25" width="17.0" height="117.25" fill="#b3dfb8"/><rect x="1220.43" y="361.75" width="17.0" height="76.75" fill="#bce5e8"/><rect x="1220.43" y="438.50" width="17.0" height="14.50" fill="#8ed4d6"/><rect x="1220.43" y="453.00" width="17.0" height="17.00" fill="#7fc885"/><rect x="1220.43" y="470.00" width="17.0" height="108.75" fill="#b3dfb8"/><rect x="1241.02" y="358.25" width="17.0" height="77.25" fill="#bce5e8"/><rect x="1241.02" y="435.50" width="17.0" height="17.50" fill="#8ed4d6"/><rect x="1241.02" y="453.00" width="17.0" height="15.00" fill="#7fc885"/><rect x="1241.02" y="468.00" width="17.0" height="96.75" fill="#b3dfb8"/><rect x="1261.62" y="356.50" width="17.0" height="79.75" fill="#bce5e8"/><rect x="1261.62" y="436.25" width="17.0" height="16.75" fill="#8ed4d6"/><rect x="1261.62" y="453.00" width="17.0" height="17.00" fill="#7fc885"/><rect x="1261.62" y="470.00" width="17.0" height="113.00" fill="#b3dfb8"/><rect x="1282.21" y="260.75" width="17.0" height="156.25" fill="#bce5e8"/><rect x="1282.21" y="417.00" width="17.0" height="36.00" fill="#8ed4d6"/><rect x="1282.21" y="453.00" width="17.0" height="30.75" fill="#7fc885"/><rect x="1282.21" y="483.75" width="17.0" height="187.00" fill="#b3dfb8"/><rect x="1302.80" y="352.75" width="17.0" height="79.75" fill="#bce5e8"/><rect x="1302.80" y="432.50" width="17.0" height="20.50" fill="#8ed4d6"/><rect x="1302.80" y="453.00" width="17.0" height="20.75" fill="#7fc885"/><rect x="1302.80" y="473.75" width="17.0" height="110.75" fill="#b3dfb8"/><rect x="1323.39" y="353.75" width="17.0" height="78.25" fill="#bce5e8"/><rect x="1323.39" y="432.00" width="17.0" height="21.00" fill="#8ed4d6"/><rect x="1323.39" y="453.00" width="17.0" height="20.75" fill="#7fc885"/><rect x="1323.39" y="473.75" width="17.0" height="112.50" fill="#b3dfb8"/><rect x="1343.99" y="352.25" width="17.0" height="79.75" fill="#bce5e8"/><rect x="1343.99" y="432.00" width="17.0" height="21.00" fill="#8ed4d6"/><rect x="1343.99" y="453.00" width="17.0" height="17.00" fill="#7fc885"/><rect x="1343.99" y="470.00" width="17.0" height="109.75" fill="#b3dfb8"/></g>
<polyline points="137.5,473.0 158.1,520.5 178.7,547.5 199.3,536.8 219.9,540.0 240.5,569.2 261.1,541.0 281.7,537.2 302.2,525.0 322.8,508.0 343.4,526.2 364.0,501.0 384.6,508.0 405.2,508.0 425.8,503.0 446.4,528.0 467.0,522.2 487.6,516.8 508.2,565.5 528.8,561.8 549.4,556.8 570.0,515.0 590.5,521.2 611.1,539.2 631.7,584.2 652.3,550.5 672.9,526.8 693.5,534.8 714.1,554.2 734.7,527.5 755.3,543.5 775.9,512.2 796.5,508.0 817.1,498.0 837.7,492.5 858.3,524.8 878.8,487.2 899.4,504.2 920.0,492.2 940.6,482.2 961.2,503.0 981.8,496.0 1002.4,507.2 1023.0,505.5 1043.6,518.0 1064.2,569.2 1084.8,520.5 1105.4,501.0 1126.0,493.8 1146.6,531.2 1167.2,510.5 1187.7,491.8 1208.3,499.8 1228.9,487.2 1249.5,470.0 1270.1,486.0 1290.7,479.2 1311.3,483.5 1331.9,486.8 1352.5,478.8" fill="none" stroke="#e0a126" stroke-width="2.8" stroke-linejoin="round" stroke-linecap="round"/>
<text class="ax" x="111.3" y="218.8" text-anchor="end">150,0</text>
<text class="ax" x="111.3" y="299.5" text-anchor="end">100,0</text>
<text class="ax" x="111.3" y="380.1" text-anchor="end">50,0</text>
<text class="ax" x="111.3" y="460.8" text-anchor="end">0,0</text>
<text class="ax" x="111.3" y="541.3" text-anchor="end">-50,0</text>
<text class="ax" x="111.3" y="621.8" text-anchor="end">-100,0</text>
<text class="ax" x="111.3" y="702.1" text-anchor="end">-150,0</text>
<text class="ax" x="111.3" y="782.8" text-anchor="end">-200,0</text>
<text class="ax" x="204.9" y="812.0" textLength="59.6" lengthAdjust="spacingAndGlyphs">05.01</text>
<text class="ax" x="354.1" y="812.0" textLength="59.6" lengthAdjust="spacingAndGlyphs">16.01</text>
<text class="ax" x="475.0" y="812.0" textLength="59.6" lengthAdjust="spacingAndGlyphs">24.01</text>
<text class="ax" x="596.0" y="812.0" textLength="59.6" lengthAdjust="spacingAndGlyphs">01.02</text>
<text class="ax" x="719.7" y="812.0" textLength="59.6" lengthAdjust="spacingAndGlyphs">09.02</text>
<text class="ax" x="868.7" y="812.0" textLength="59.6" lengthAdjust="spacingAndGlyphs">20.02</text>
<text class="ax" x="989.4" y="812.0" textLength="59.6" lengthAdjust="spacingAndGlyphs">28.02</text>
<text class="ax" x="1110.8" y="812.0" textLength="59.6" lengthAdjust="spacingAndGlyphs">07.03</text>
<text class="ax" x="1234.0" y="812.0" textLength="59.6" lengthAdjust="spacingAndGlyphs">15.03</text>
<rect x="90.4" y="849" width="34.5" height="35" rx="4.5" fill="#7fc885"/>
<text class="lg" x="132.5" y="873.0" textLength="333.5" lengthAdjust="spacingAndGlyphs">Купівля безготівкової валюти</text>
<rect x="489.8" y="849" width="34.5" height="35" rx="4.5" fill="#8ed4d6"/>
<text class="lg" x="532" y="873.0" textLength="336.5" lengthAdjust="spacingAndGlyphs">Продаж безготівкової валюти</text>
<rect x="943" y="849" width="34.5" height="35" rx="4.5" fill="#b3dfb8"/>
<text class="lg" x="985.5" y="873.0" textLength="295.5" lengthAdjust="spacingAndGlyphs">Купівля готівкової валюти</text>
<rect x="90.4" y="913.6" width="34.5" height="35" rx="4.5" fill="#bce5e8"/>
<text class="lg" x="132" y="937.4" textLength="298.8" lengthAdjust="spacingAndGlyphs">Продаж готівкової валюти</text>
<line x1="489.5" y1="930.3" x2="523.5" y2="930.3" stroke="#f0a93a" stroke-width="2.4"/><circle cx="506.8" cy="930.3" r="7.9" fill="#f39813"/>
<text class="lg" y="937.4"><tspan x="532.70" textLength="88.00" lengthAdjust="spacingAndGlyphs">Сальдо:</tspan> <tspan x="626.40" textLength="74.40" lengthAdjust="spacingAndGlyphs">усього</tspan> <tspan x="706.40" textLength="92.90" lengthAdjust="spacingAndGlyphs">(продаж</tspan> <tspan x="810.30" textLength="11.10" lengthAdjust="spacingAndGlyphs">−</tspan> <tspan x="827.90" textLength="92.30" lengthAdjust="spacingAndGlyphs">купівля)</tspan></text>
<circle cx="50.5" cy="963.3" r="5.6" fill="#c2c2c2"/>
</svg></body></html>
